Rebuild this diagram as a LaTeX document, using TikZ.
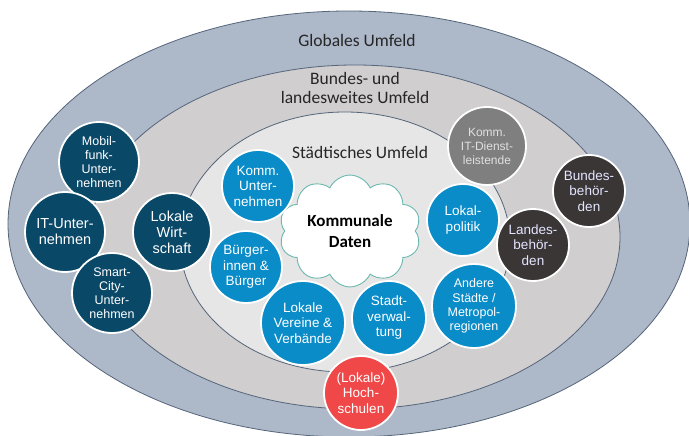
\documentclass[tikz,border=0pt]{standalone}
\usepackage{fontspec}
\setmainfont{Liberation Sans}
\newfontfamily\ringfont{Carlito}
\usetikzlibrary{shapes.symbols}
\definecolor{outerfill}{HTML}{ADB8C9}
\definecolor{midfill}{HTML}{D0CECE}
\definecolor{innerfill}{HTML}{E7E6E6}
\definecolor{ringline}{HTML}{55657A}
\definecolor{darkteal}{HTML}{0A4868}
\definecolor{bluec}{HTML}{0A8CC8}
\definecolor{grayc}{HTML}{7F7F7F}
\definecolor{blackc}{HTML}{3A3636}
\definecolor{redc}{HTML}{F04848}
\definecolor{cloudline}{HTML}{6AB8AF}
\definecolor{labeltext}{HTML}{262626}
\tikzset{
  ring/.style={draw=ringline, line width=0.8pt},
  ringlabel/.style={font=\ringfont\fontsize{17.5}{19.5}\selectfont, text=labeltext, align=center, inner sep=0pt},
  actor/.style={circle, draw=white, line width=1.8pt, inner sep=0pt, align=center, text=white,
    font=\fontsize{13.5}{15.5}\selectfont},
  smalltext/.style={font=\fontsize{12.5}{14.2}\selectfont},
  teal/.style={actor, fill=darkteal, minimum size=80pt},
  bluenode/.style={actor, fill=bluec, minimum size=72pt},
  graynode/.style={actor, fill=grayc, minimum size=78pt, text=white!88!black},
  blacknode/.style={actor, fill=blackc, minimum size=72pt, text=white!90!blue},
  rednode/.style={actor, fill=redc, minimum size=74pt},
}
\begin{document}
\begin{tikzpicture}[x=1pt, y=-1pt]
\useasboundingbox (0,0) rectangle (689,436);
% rings
\draw[ring, fill=outerfill] (349,224) ellipse [x radius=341, y radius=213];
\draw[ring, fill=midfill] (355,237) ellipse [x radius=265, y radius=172];
\draw[ring, fill=innerfill] (345,242) ellipse [x radius=165, y radius=130];
% ring labels
\node[ringlabel] (glob) at (357,40) {Globales Umfeld};
\node[ringlabel] (bund) at (355,88) {Bundes- und\\landesweites Umfeld};
\node[ringlabel] (stadt) at (360,152) {Städtisches Umfeld};
% cloud
\node[cloud, cloud puffs=10, cloud puff arc=130, aspect=1.3, draw=cloudline, line width=0.9pt, fill=white,
  minimum width=142pt, minimum height=109pt, inner sep=0pt, align=center,
  font=\ringfont\bfseries\fontsize{17}{21}\selectfont, text=black] (daten) at (350,231) {Kommunale\\Daten};
% left cluster
\node[teal, smalltext] (mobil) at (99,162) {Mobil-\\funk-\\Unter-\\nehmen};
\node[teal, font=\fontsize{14.5}{16}\selectfont] (itu) at (65,232) {IT-Unter-\\nehmen};
\node[teal, smalltext] (smart) at (112,293) {Smart-\\City-\\Unter-\\nehmen};
\node[teal, font=\fontsize{14.5}{16}\selectfont, minimum size=78pt] (wirt) at (172,232) {Lokale\\Wirt-\\schaft};
% blue
\node[bluenode] (kommu) at (258,186) {Komm.\\Unter-\\nehmen};
\node[bluenode] (buerger) at (246,267) {Bürger-\\innen \&\\Bürger};
\node[bluenode, minimum size=84pt] (vereine) at (303,323) {Lokale\\Vereine \&\\Verbände};
\node[bluenode, minimum size=74pt] (verw) at (389,318) {Stadt-\\verwal-\\tung};
\node[bluenode, minimum size=72pt] (politik) at (463,220) {Lokal-\\politik};
\node[bluenode, smalltext, minimum size=84pt] (andere) at (474,306) {Andere\\Städte /\\Metropol-\\regionen};
% right
\node[graynode, font=\fontsize{12}{14}\selectfont] (itdienst) at (487,146) {Komm.\\IT-Dienst-\\leistende};
\node[blacknode] (bundesb) at (589,191) {Bundes-\\behör-\\den};
\node[blacknode] (landesb) at (533,245) {Landes-\\behör-\\den};
% bottom
\node[rednode] (hoch) at (361,393) {(Lokale)\\Hoch-\\schulen};
\end{tikzpicture}
\end{document}
